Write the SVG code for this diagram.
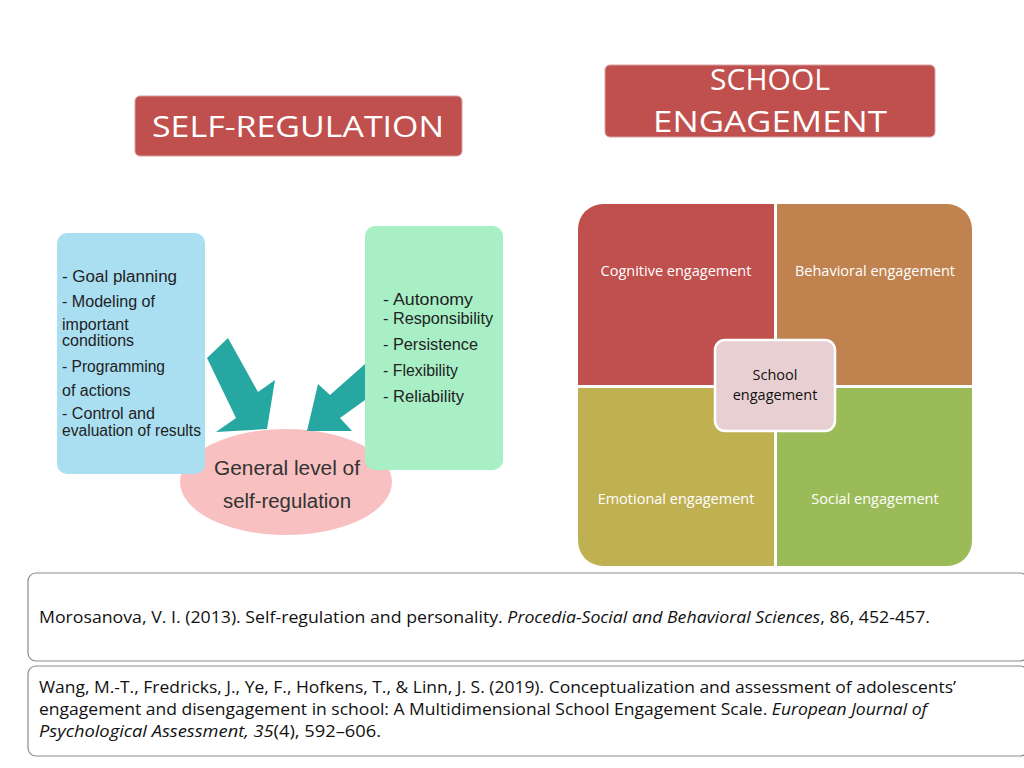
<svg xmlns="http://www.w3.org/2000/svg" width="1024" height="768" viewBox="0 0 1024 768">
<style>
.t{font-family:"Liberation Sans",Arial,sans-serif}
.c{font-family:"Open Sans","Liberation Sans",sans-serif}
.title{fill:#c0504d;stroke:#d7a0a0;stroke-width:1}
.wt{fill:#fff;text-anchor:middle}
.q{fill:#fff;font-size:14.5px;text-anchor:middle}
.lst{font-size:16px;fill:#222}
.ref{fill:#fff;stroke:#8c8c8c;stroke-width:1.2}
.rt{font-size:15.5px;fill:#111}
</style>
<rect width="1024" height="768" fill="#fff"/>
<g id="self-regulation-title"><rect class="title" x="135" y="96" width="327" height="60" rx="5"/><text class="c wt" x="298" y="137" font-size="30" textLength="292" lengthAdjust="spacingAndGlyphs">SELF-REGULATION</text></g>
<g id="school-engagement-title"><rect class="title" x="605" y="65" width="330" height="72" rx="5"/><text class="c wt" x="770" y="90" font-size="30">SCHOOL</text><text class="c wt" x="770" y="132" font-size="30" textLength="234" lengthAdjust="spacingAndGlyphs">ENGAGEMENT</text></g>

<g id="general-level"><ellipse cx="286" cy="482" rx="106" ry="53" fill="#f8c0c0"/></g>
<g id="connectors">
<polygon points="207,358 228,338 258,392 275,380 267,429 216,432 236,418" fill="#27a7a2"/>
<polygon points="365,364 365,400 340,418 352,431 307,431 318,384 330,395" fill="#27a7a2"/>
</g>
<g id="left-list"><rect x="57" y="233" width="148" height="241" rx="10" fill="#aadff2"/>
<text class="t lst" x="62" y="282" textLength="115" lengthAdjust="spacingAndGlyphs">- Goal planning</text>
<text class="t lst" x="62" y="307" textLength="93" lengthAdjust="spacingAndGlyphs">- Modeling of</text>
<text class="t lst" x="62" y="330">important</text>
<text class="t lst" x="62" y="346">conditions</text>
<text class="t lst" x="62" y="372" textLength="103" lengthAdjust="spacingAndGlyphs">- Programming</text>
<text class="t lst" x="62" y="396">of actions</text>
<text class="t lst" x="62" y="419" textLength="93" lengthAdjust="spacingAndGlyphs">- Control and</text>
<text class="t lst" x="62" y="436" textLength="139" lengthAdjust="spacingAndGlyphs">evaluation of results</text>
</g>
<g id="right-list"><rect x="365" y="226" width="138" height="244" rx="10" fill="#a8efc6"/>
<text class="t lst" x="383" y="305" textLength="90" lengthAdjust="spacingAndGlyphs">- Autonomy</text>
<text class="t lst" x="383" y="324" textLength="110" lengthAdjust="spacingAndGlyphs">- Responsibility</text>
<text class="t lst" x="383" y="350" textLength="95" lengthAdjust="spacingAndGlyphs">- Persistence</text>
<text class="t lst" x="383" y="376" textLength="75" lengthAdjust="spacingAndGlyphs">- Flexibility</text>
<text class="t lst" x="383" y="402" textLength="81" lengthAdjust="spacingAndGlyphs">- Reliability</text>
</g>
<g id="general-level-text"><text class="t" x="287" y="475" font-size="20" text-anchor="middle" fill="#333" textLength="146" lengthAdjust="spacingAndGlyphs">General level of</text><text class="t" x="287" y="508" font-size="20" text-anchor="middle" fill="#333" textLength="128" lengthAdjust="spacingAndGlyphs">self-regulation</text></g>

<g id="cognitive"><path d="M578,385 V229 A25,25 0 0 1 603,204 H774 V385 Z" fill="#c0504d"/><text class="c q" x="676" y="276">Cognitive engagement</text></g>
<g id="behavioral"><path d="M777,204 H947 A25,25 0 0 1 972,229 V385 H777 Z" fill="#c0834f"/><text class="c q" x="875" y="276">Behavioral engagement</text></g>
<g id="emotional"><path d="M578,388 H774 V566 H603 A25,25 0 0 1 578,541 Z" fill="#bfb052"/><text class="c q" x="676" y="504">Emotional engagement</text></g>
<g id="social"><path d="M777,388 H972 V541 A25,25 0 0 1 947,566 H777 Z" fill="#9bbb59"/><text class="c q" x="875" y="504">Social engagement</text></g>
<g id="school-engagement"><rect x="715" y="340" width="120" height="91" rx="10" fill="#e8cfd1" stroke="#fff" stroke-width="2.5"/><text class="c" x="775" y="380" font-size="14.5" text-anchor="middle" fill="#111">School</text><text class="c" x="775" y="400" font-size="14.5" text-anchor="middle" fill="#111">engagement</text></g>

<g id="ref1"><rect class="ref" x="28" y="573" width="1000" height="88" rx="8"/><text class="c rt" x="39" y="623" textLength="891" lengthAdjust="spacingAndGlyphs">Morosanova, V. I. (2013). Self-regulation and personality. <tspan font-style="italic">Procedia-Social and Behavioral Sciences</tspan>, 86, 452-457.</text></g>
<g id="ref2"><rect class="ref" x="28" y="666" width="1000" height="90" rx="8"/>
<text class="c rt" x="39" y="693" textLength="917" lengthAdjust="spacingAndGlyphs">Wang, M.-T., Fredricks, J., Ye, F., Hofkens, T., &amp; Linn, J. S. (2019). Conceptualization and assessment of adolescents’</text>
<text class="c rt" x="39" y="715" textLength="888" lengthAdjust="spacingAndGlyphs">engagement and disengagement in school: A Multidimensional School Engagement Scale. <tspan font-style="italic">European Journal of</tspan></text>
<text class="c rt" x="39" y="737" textLength="342" lengthAdjust="spacingAndGlyphs"><tspan font-style="italic">Psychological Assessment, 35</tspan>(4), 592–606.</text></g>
</svg>
